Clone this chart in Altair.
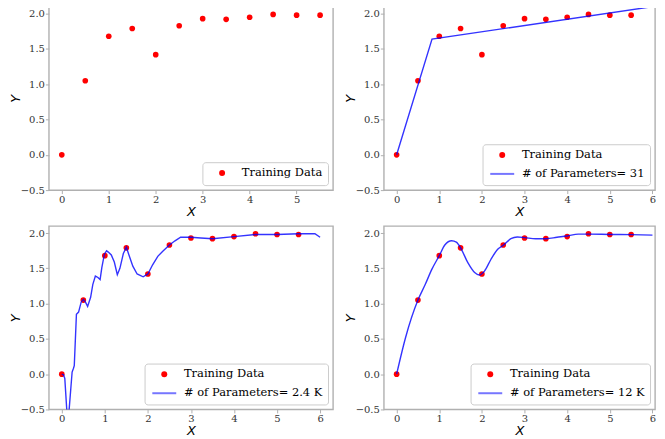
import altair as alt
import pandas as pd

# ---- data ----
x_train = [0.0, 0.5, 1.0, 1.5, 2.0, 2.5, 3.0, 3.5, 4.0, 4.5, 5.0, 5.5]
y_train = [0.0, 1.05, 1.68, 1.79, 1.42, 1.83, 1.93, 1.92, 1.95, 1.99, 1.98, 1.98]

x_fit31 = [0.0, 0.83, 6.0]
y_fit31 = [0.0, 1.64, 2.10]

x_fit2k = [0.0, 0.04, 0.07, 0.14, 0.21, 0.24, 0.27, 0.29, 0.34, 0.39, 0.45, 0.50,
           0.55, 0.60, 0.67, 0.72, 0.78, 0.84, 0.89, 0.93, 0.99, 1.04, 1.08, 1.15,
           1.22, 1.29, 1.35, 1.43, 1.50, 1.57, 1.65, 1.75, 1.89, 2.0, 2.11, 2.23,
           2.34, 2.50, 2.63, 2.76, 3.0, 3.23, 3.5, 4.0, 4.5, 5.0, 5.5, 5.88, 6.0]
y_fit2k = [0.0, -0.01, -0.06, -0.74, -0.20, 0.03, 0.08, 0.12, 0.85, 0.88, 1.02, 1.06,
           1.02, 0.96, 1.09, 1.27, 1.39, 1.37, 1.34, 1.51, 1.70, 1.75, 1.73, 1.69,
           1.59, 1.41, 1.50, 1.71, 1.80, 1.67, 1.53, 1.42, 1.38, 1.42, 1.55, 1.67,
           1.74, 1.83, 1.89, 1.94, 1.94, 1.93, 1.92, 1.95, 1.98, 1.98, 1.99, 1.99, 1.94]

x_fit12k = [0.0, 0.21, 0.5, 0.67, 0.825, 1.0, 1.13, 1.29, 1.40, 1.50, 1.67, 1.83,
            1.94, 2.06, 2.21, 2.37, 2.51, 2.68, 2.83, 3.01, 3.26, 3.51, 3.76, 4.0,
            4.26, 4.5, 5.0, 5.5, 6.0]
y_fit12k = [0.0, 0.52, 1.05, 1.27, 1.485, 1.68, 1.83, 1.89, 1.87, 1.79, 1.58, 1.44,
            1.405, 1.46, 1.625, 1.77, 1.83, 1.92, 1.944, 1.935, 1.92, 1.92, 1.94, 1.958,
            1.985, 1.985, 1.98, 1.977, 1.97]

train_label = "Training Data"
fit_labels = ["# of Parameters= 31", "# of Parameters= 2.4 K", "# of Parameters= 12 K"]
x_ticks_first = [0, 1, 2, 3, 4, 5]
x_ticks = [0, 1, 2, 3, 4, 5, 6]
y_ticks = [-0.5, 0.0, 0.5, 1.0, 1.5, 2.0]

H = 184
W_LEFT = 285
W_RIGHT = 272


def make_legend():
    return alt.Legend(
        title=None, orient="bottom-right", offset=5,
        fillColor="white", strokeColor="#cccccc", cornerRadius=3,
        padding=5, rowPadding=5,
        labelFont="DejaVu Serif", labelFontSize=11.5, labelColor="black", labelLimit=0,
        labelOffset=14,
        symbolSize=36, symbolOffset=9,
        symbolFillColor="#ff0000",
        symbolStrokeColor={"expr": "datum.value == 'Training Data' ? 'rgba(0,0,0,0)' : 'rgba(60,60,255,0.7)'"},
        symbolStrokeWidth=2,
    )


def panel(fx, fy, flabel, x_domain, ticks, width, interp="linear"):
    train_df = pd.DataFrame({"x": x_train, "y": y_train, "series": train_label})
    domain = [train_label] + ([flabel] if flabel else [])
    colors = ["#ff0000", "#0000ff"][: len(domain)]
    shapes = ["circle", "M-4,0H4"][: len(domain)]
    xenc = alt.X("x:Q", scale=alt.Scale(domain=x_domain, nice=False, zero=False),
                 axis=alt.Axis(values=ticks, title="X", format="d"))
    yenc = alt.Y("y:Q", scale=alt.Scale(domain=[-0.5, 2.1], nice=False, zero=False),
                 axis=alt.Axis(values=y_ticks, title="Y", format=".1f"))
    pts = alt.Chart(train_df).mark_point(filled=True, size=32, opacity=1).encode(
        x=xenc, y=yenc,
        color=alt.Color("series:N", scale=alt.Scale(domain=domain, range=colors), legend=make_legend()),
        shape=alt.Shape("series:N", scale=alt.Scale(domain=domain, range=shapes), legend=make_legend()),
    )
    layers = [pts]
    if flabel:
        fit_df = pd.DataFrame({"x": fx, "y": fy})
        line = alt.Chart(fit_df).mark_line(color="#0000ff", strokeWidth=1.4, opacity=0.8,
                                           clip=True, interpolate=interp).encode(
            x=xenc, y=yenc, order="x:Q")
        layers.append(line)
    return alt.layer(*layers).properties(width=width, height=H)


p1 = panel(None, None, None, [-0.275, 5.775], x_ticks_first, W_LEFT)
p2 = panel(x_fit31, y_fit31, fit_labels[0], [-0.3, 6.06], x_ticks, W_RIGHT)
p3 = panel(x_fit2k, y_fit2k, fit_labels[1], [-0.3, 6.3], x_ticks, W_LEFT)
p4 = panel(x_fit12k, y_fit12k, fit_labels[2], [-0.3, 6.06], x_ticks, W_RIGHT, interp="monotone")

chart = alt.concat(p1, p2, p3, p4, columns=2, spacing={"row": 36, "column": 51}, bounds="flush").resolve_scale(
    color="independent", shape="independent", x="independent", y="independent"
).resolve_legend(color="independent", shape="independent").properties(
    padding={"left": 0, "top": -3, "right": 0, "bottom": 0}
).configure_view(
    stroke="#b0b0b0", strokeWidth=1.4
).configure_axis(
    domain=False, grid=False, tickColor="#b0b0b0", tickSize=3.5, tickWidth=1,
    labelFont="DejaVu Serif", labelFontSize=10, labelColor="#333333", labelPadding=1,
    titleFont="DejaVu Sans", titleFontStyle="italic", titleFontWeight="normal",
    titleFontSize=13, titleColor="black", titlePadding=1
).configure_axisY(titlePadding=-2)

chart.save("out.html", embed_options={"renderer": "svg", "actions": False})
